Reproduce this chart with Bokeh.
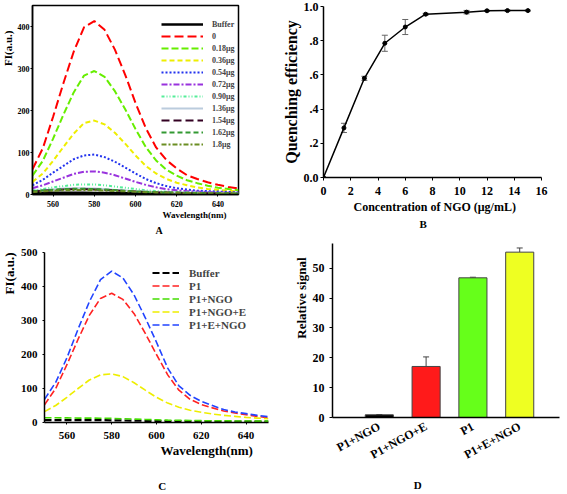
from bokeh.plotting import figure
from bokeh.models import (Range1d, FixedTicker, Legend, LegendItem, Title, LinearAxis,
                          Whisker, ColumnDataSource, TeeHead)
from bokeh.layouts import row, column
from bokeh.embed import file_html
from bokeh.resources import INLINE

FONT = "Liberation Serif"

# ---------------- data ----------------
wavelength = [550, 555, 560, 565, 570, 575, 580, 585, 590, 595, 600,
              605, 610, 615, 620, 625, 630, 635, 640, 645, 650]

# Panel A: spectra for NGO amounts
a_labels = ["Buffer", "0", "0.18\u03bcg", "0.36\u03bcg", "0.54\u03bcg", "0.72\u03bcg",
            "0.90\u03bcg", "1.36\u03bcg", "1.54\u03bcg", "1.62\u03bcg", "1.8\u03bcg"]
a_buffer = [4, 4, 4, 4, 4, 4, 3.5, 3.5, 3.5, 3, 3, 3, 3, 2.5, 2.5, 2.5, 2.5, 2, 2, 2, 2]
a_0 = [60, 110, 185, 265, 340, 398, 413, 392, 345, 285, 218, 158, 112, 82, 62, 46, 37, 29, 23, 18, 14]
a_018 = [45, 80, 133, 190, 243, 283, 294, 280, 246, 203, 156, 113, 81, 59, 45, 34, 27, 21, 16, 13, 10]
a_036 = [30, 50, 80, 113, 145, 170, 176, 167, 147, 121, 93, 68, 50, 37, 28, 22, 17, 13, 11, 9, 7]
a_054 = [22, 35, 52, 68, 84, 93, 95, 89, 78, 64, 50, 37, 27, 20, 15, 12, 9, 8, 7, 6, 5]
a_072 = [15, 22, 31, 40, 49, 54, 55, 52, 46, 38, 30, 23, 17, 13, 10, 8, 7, 6, 5, 4.5, 4]
a_090 = [9, 13, 17, 20, 23, 24, 24, 22, 19, 16, 13, 10, 8, 6.5, 5.5, 5, 4.5, 4, 4, 3.5, 3]
a_136 = [8, 10, 12, 14, 15, 15, 14, 13, 11, 9.5, 8, 7, 6, 5, 4.5, 4, 3.5, 3, 3, 3, 2.5]
a_154 = [7, 9, 10.5, 12, 12.5, 12.5, 12, 11, 9.5, 8, 7, 6, 5, 4.5, 4, 3.5, 3, 3, 2.5, 2.5, 2]
a_162 = [8, 10, 11.5, 13, 13.5, 13.5, 13, 12, 10.5, 9, 7.5, 6.5, 5.5, 5, 4.5, 4, 3.5, 3, 3, 2.5, 2.5]
a_18 = [6, 7.5, 9, 10, 10.5, 10.5, 10, 9.5, 8.5, 7.5, 6.5, 5.5, 5, 4.5, 4, 3.5, 3, 3, 2.5, 2.5, 2]
a_ticks_x = [560, 580, 600, 620, 640]
a_ticks_y = [0, 100, 200, 300, 400]

# Panel B: quenching efficiency
conc = [0, 1.5, 3, 4.5, 6, 7.5, 10.5, 12, 13.5, 15]
qe = [0, 0.29, 0.58, 0.785, 0.88, 0.955, 0.967, 0.975, 0.976, 0.976]
qe_err = [0, 0.027, 0.012, 0.047, 0.044, 0.005, 0.01, 0.003, 0.003, 0.003]
b_ticks_x = [0, 2, 4, 6, 8, 10, 12, 14, 16]
b_ticks_y = [0, 0.2, 0.4, 0.6, 0.8, 1.0]
b_tick_labels_y = ["0.0", ".2", ".4", ".6", ".8", "1.0"]

# Panel C: spectra
c_labels = ["Buffer", "P1", "P1+NGO", "P1+NGO+E", "P1+E+NGO"]
c_buffer = [7, 7, 7, 7, 7, 7, 6.5, 6, 5.5, 5, 4.5, 4, 4, 3.5, 3.5, 3, 3, 3, 3, 3, 3]
c_p1 = [52, 100, 170, 245, 315, 365, 380, 362, 320, 262, 200, 140, 95, 68, 53, 43, 34, 28, 23, 18, 14]
c_p1ngo = [14, 14, 13.5, 13, 13, 12.5, 12, 11, 10, 9, 8, 7, 6.5, 6, 5.5, 5, 5, 4.5, 4.5, 4, 4]
c_p1ngoe = [32, 50, 74, 100, 125, 140, 143, 135, 117, 95, 74, 57, 45, 36, 30, 25, 21, 18, 15, 13, 11]
c_p1engo = [68, 118, 190, 275, 355, 420, 445, 425, 375, 308, 236, 160, 108, 80, 62, 50, 38, 31, 26, 21, 17]
c_ticks_x = [560, 580, 600, 620, 640]
c_ticks_y = [0, 100, 200, 300, 400, 500]

# Panel D: relative signal
d_labels = ["P1+NGO", "P1+NGO+E", "P1", "P1+E+NGO"]
d_pos = [1, 2, 3, 4]
d_vals = [0.9, 17.1, 46.8, 55.4]
d_err = [0.1, 3.2, 0.2, 1.4]
d_ticks_y = [0, 10, 20, 30, 40, 50]


# ---------------- helpers ----------------
def make_fig(w, h, L, R, T, B, xr, yr):
    p = figure(width=w, height=h, x_range=Range1d(*xr), y_range=Range1d(*yr),
               output_backend="svg", toolbar_location=None, title=None,
               min_border_left=L, min_border_right=w - R,
               min_border_top=T, min_border_bottom=h - B)
    p.grid.visible = False
    p.outline_line_color = None
    p.background_fill_color = "white"
    p.border_fill_color = "white"
    for ax in (p.xaxis[0], p.yaxis[0]):
        ax.axis_line_color = "black"
        ax.axis_line_width = 1.5
        ax.major_tick_line_color = "black"
        ax.minor_tick_line_color = None
        ax.major_tick_in = 0
        ax.major_label_text_font = FONT
        ax.major_label_text_font_style = "bold"
        ax.major_label_text_color = "black"
    return p


def add_title(p, side, text, size, align="left", offset=0, standoff=0, valign="middle"):
    t = Title(text=text, align=align, offset=offset, standoff=standoff,
              vertical_align=valign, text_font=FONT, text_font_style="bold",
              text_font_size=size, text_color="black")
    p.add_layout(t, side)


def add_panel_letter(p, letter, at, gap, size="11px"):
    # an extra, line-less axis whose single tick label is the panel letter
    ax = LinearAxis(ticker=FixedTicker(ticks=[at]), axis_line_color=None,
                    major_tick_line_color=None, minor_tick_line_color=None,
                    major_tick_out=0, major_tick_in=0, minor_tick_out=0,
                    minor_tick_in=0, major_label_standoff=gap,
                    major_label_overrides={at: letter},
                    major_label_text_font=FONT, major_label_text_font_style="bold",
                    major_label_text_font_size=size, major_label_text_color="black")
    p.add_layout(ax, "below")


# ---------------- Panel A ----------------
pA = make_fig(280, 240, 28, 238, 5, 194, (550, 650), (0, 450))
pA.outline_line_color = "black"
pA.outline_line_width = 1.5
pA.xaxis.ticker = FixedTicker(ticks=a_ticks_x)
pA.yaxis.ticker = FixedTicker(ticks=a_ticks_y)
for ax in (pA.xaxis[0], pA.yaxis[0]):
    ax.major_label_text_font_size = "8px"
    ax.major_tick_out = 2
pA.xaxis.major_label_standoff = 4
pA.yaxis.major_label_standoff = 1

a_series = [a_buffer, a_0, a_018, a_036, a_054, a_072, a_090, a_136, a_154, a_162, a_18]
a_colors = ["#000000", "#FF0000", "#66EE00", "#EEEE00", "#2233EE", "#9933DD",
            "#55EE99", "#BBCCDD", "#330022", "#339933", "#6B8E23"]
a_dash = ["solid", "9 4", "7 3", "5 3", "2 2", "6 2 2 2", "3 2 1 2 1 2",
          "solid", "8 4", "5 3", "5 2 2 2"]
a_width = [2.5, 2, 2, 2, 2, 2, 2, 2, 2, 2, 2]
a_items = []
for lab, ys, col, dash, lw in zip(a_labels, a_series, a_colors, a_dash, a_width):
    r = pA.line(wavelength, ys, line_color=col, line_dash=dash, line_width=lw)
    a_items.append(LegendItem(label=lab, renderers=[r]))
a_leg = Legend(items=a_items, location=(129, 44),
               glyph_width=42, glyph_height=12, label_height=12, spacing=0,
               padding=0, margin=0, label_standoff=9,
               label_text_font=FONT, label_text_font_style="bold",
               label_text_font_size="8px", border_line_color=None,
               background_fill_alpha=0)
pA.add_layout(a_leg)
add_title(pA, "left", "FI(a.u.)", "11px", align="right", offset=25)
add_title(pA, "below", "Wavelength(nm)", "9px", align="left", offset=130, valign="top")
add_title(pA, "below", "A", "10px", align="left", offset=123, standoff=4)

# ---------------- Panel B ----------------
pB = make_fig(287, 240, 43, 261, 6, 177, (0, 16), (0, 1.0))
pB.xaxis.ticker = FixedTicker(ticks=b_ticks_x)
pB.yaxis.ticker = FixedTicker(ticks=b_ticks_y)
pB.yaxis.major_label_overrides = dict(zip(b_ticks_y, b_tick_labels_y))
for ax in (pB.xaxis[0], pB.yaxis[0]):
    ax.major_label_text_font_size = "12px"
    ax.major_tick_out = 3
pB.xaxis.major_label_standoff = 6
pB.yaxis.major_label_standoff = 2
srcB = ColumnDataSource(dict(x=conc, y=qe,
                             lo=[a - b for a, b in zip(qe, qe_err)],
                             hi=[a + b for a, b in zip(qe, qe_err)]))
pB.add_layout(Whisker(source=srcB, base="x", lower="lo", upper="hi",
                      line_color="#666666", line_width=1,
                      lower_head=TeeHead(size=6, line_color="#666666"),
                      upper_head=TeeHead(size=6, line_color="#666666")))
pB.line("x", "y", source=srcB, line_color="black", line_width=1.5)
pB.scatter("x", "y", source=srcB, size=4, color="black")
add_title(pB, "left", "Quenching efficiency", "16px", align="center")
add_title(pB, "below", "Concentration of NGO (\u03bcg/mL)", "12px", align="left",
          offset=30, standoff=3)
add_title(pB, "below", "B", "11px", align="left", offset=96)

# ---------------- Panel C ----------------
pC = make_fig(280, 254, 40, 268, 12, 182, (550, 650), (0, 500))
pC.xaxis.ticker = FixedTicker(ticks=c_ticks_x)
pC.yaxis.ticker = FixedTicker(ticks=c_ticks_y)
for ax in (pC.xaxis[0], pC.yaxis[0]):
    ax.major_label_text_font_size = "11px"
    ax.major_tick_out = 2
pC.xaxis.major_label_standoff = 7
pC.yaxis.major_label_standoff = 5
c_series = [c_buffer, c_p1, c_p1ngo, c_p1ngoe, c_p1engo]
c_colors = ["#000000", "#FF2222", "#44DD00", "#EEEE00", "#2244FF"]
c_items = []
for lab, ys, col in zip(c_labels, c_series, c_colors):
    lw = 2.2 if lab == "Buffer" else 1.6
    r = pC.line(wavelength, ys, line_color=col, line_dash="7 3", line_width=lw)
    c_items.append(LegendItem(label=lab, renderers=[r]))
c_leg = Legend(items=c_items, location=(108, 91),
               glyph_width=27, glyph_height=13, label_height=13, spacing=0,
               padding=0, margin=0, label_standoff=10,
               label_text_font=FONT, label_text_font_style="bold",
               label_text_font_size="11px", border_line_color=None,
               background_fill_alpha=0)
pC.add_layout(c_leg)
add_title(pC, "left", "FI(a.u.)", "13px", align="right", offset=0)
add_title(pC, "below", "Wavelength(nm)", "13px", align="left", offset=116, standoff=1)
add_panel_letter(pC, "C", 602.6, 20)

# ---------------- Panel D ----------------
pD = make_fig(287, 254, 52, 279, 3, 177, (0, 4.85), (0, 58.3))
pD.xaxis.ticker = FixedTicker(ticks=d_pos)
pD.xaxis.major_label_overrides = dict(zip(d_pos, d_labels))
pD.xaxis.major_label_orientation = 0.5
pD.xaxis.major_tick_out = 0
pD.xaxis.major_label_standoff = 8
pD.yaxis.ticker = FixedTicker(ticks=d_ticks_y)
pD.yaxis.major_tick_out = 3
pD.yaxis.major_label_standoff = 5
for ax in (pD.xaxis[0], pD.yaxis[0]):
    ax.major_label_text_font_size = "12px"
d_colors = ["#000000", "#FF1A1A", "#66FF1A", "#EEFF22"]
srcD = ColumnDataSource(dict(x=d_pos, top=d_vals, color=d_colors,
                             hi=[a + b for a, b in zip(d_vals, d_err)]))
pD.vbar(x="x", top="top", width=0.6, source=srcD, fill_color="color",
        line_color="#444444", line_width=1)
pD.add_layout(Whisker(source=srcD, base="x", lower="top", upper="hi",
                      line_color="#444444", line_width=1, lower_head=None,
                      upper_head=TeeHead(size=6, line_color="#444444")))
add_title(pD, "left", "Relative signal", "13px", align="right", offset=14)
add_panel_letter(pD, "D", 1.82, 8)

layout = column(row(column(pA), column(pB)), row(column(pC), column(pD)))
open("out.html", "w").write(file_html(layout, INLINE))
